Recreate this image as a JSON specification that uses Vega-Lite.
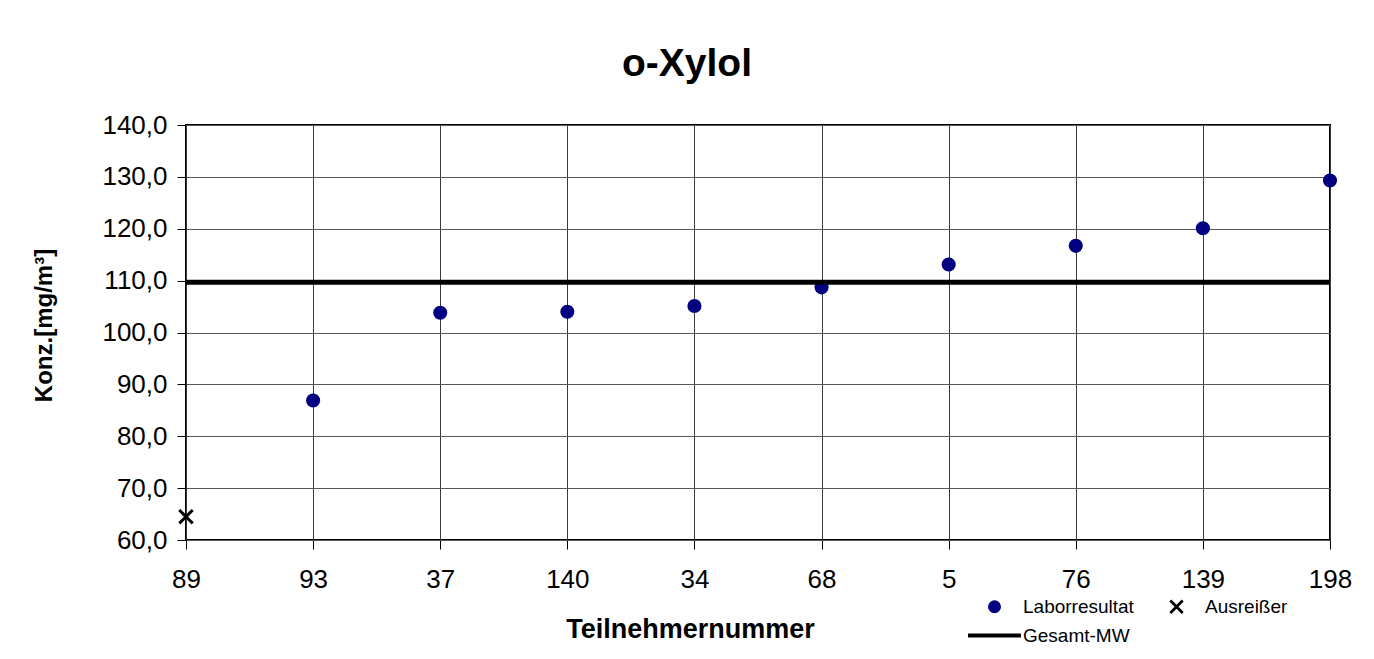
{
  "$schema": "https://vega.github.io/schema/vega-lite/v6.json",
  "width": 1144,
  "height": 415,
  "autosize": {"type": "none"},
  "padding": {"left": 186, "top": 125, "right": 44, "bottom": 119},
  "background": "white",
  "title": {
    "text": "o-Xylol",
    "font": "Liberation Sans",
    "fontSize": 39,
    "fontWeight": "bold",
    "color": "black",
    "anchor": "middle",
    "frame": "group",
    "dx": -71,
    "baseline": "alphabetic",
    "offset": -3
  },
  "config": {
    "view": {"stroke": "black", "strokeWidth": 2},
    "font": "Liberation Sans",
    "axis": {
      "labelFont": "Liberation Sans",
      "titleFont": "Liberation Sans",
      "labelColor": "black",
      "titleColor": "black",
      "tickColor": "black",
      "gridWidth": 1,
      "gridOpacity": 1,
      "domain": false
    },
    "legend": {
      "labelFont": "Liberation Sans"
    }
  },
  "layer": [
    {
      "data": {
        "values": [
          {"Teilnehmer": "89", "Wert": 64.5, "Serie": "Ausreißer"},
          {"Teilnehmer": "93", "Wert": 86.9, "Serie": "Laborresultat"},
          {"Teilnehmer": "37", "Wert": 103.8, "Serie": "Laborresultat"},
          {"Teilnehmer": "140", "Wert": 104.0, "Serie": "Laborresultat"},
          {"Teilnehmer": "34", "Wert": 105.1, "Serie": "Laborresultat"},
          {"Teilnehmer": "68", "Wert": 108.7, "Serie": "Laborresultat"},
          {"Teilnehmer": "5", "Wert": 113.1, "Serie": "Laborresultat"},
          {"Teilnehmer": "76", "Wert": 116.7, "Serie": "Laborresultat"},
          {"Teilnehmer": "139", "Wert": 120.1, "Serie": "Laborresultat"},
          {"Teilnehmer": "198", "Wert": 129.3, "Serie": "Laborresultat"}
        ]
      },
      "mark": {"type": "point", "filled": true, "opacity": 1, "size": 200, "strokeWidth": 0},
      "encoding": {
        "x": {
          "field": "Teilnehmer",
          "type": "ordinal",
          "sort": ["89", "93", "37", "140", "34", "68", "5", "76", "139", "198"],
          "scale": {"type": "point", "padding": 0},
          "axis": {
            "title": "Teilnehmernummer",
            "labelAngle": 0,
            "labelFontSize": 26,
            "labelPadding": 17,
            "tickSize": 9,
            "grid": true,
            "gridColor": "#3a3a3a",
            "titleFontSize": 27,
            "titleFontWeight": "bold",
            "titleX": 504,
            "titleY": 97,
            "titleBaseline": "alphabetic"
          }
        },
        "y": {
          "field": "Wert",
          "type": "quantitative",
          "scale": {"domain": [60, 140], "nice": false, "zero": false},
          "axis": {
            "title": "Konz.[mg/m³]",
            "values": [60, 70, 80, 90, 100, 110, 120, 130, 140],
            "labelExpr": "replace(format(datum.value, '.1f'), '.', ',')",
            "labelFontSize": 26,
            "labelPadding": 10,
            "tickSize": 9,
            "grid": true,
            "gridColor": "#5a5a5a",
            "titleFontSize": 24,
            "titleFontWeight": "bold",
            "titleX": -135,
            "titleY": 200,
            "titleBaseline": "alphabetic"
          }
        },
        "shape": {
          "field": "Serie",
          "type": "nominal",
          "scale": {
            "domain": ["Laborresultat", "Ausreißer", "Gesamt-MW"],
            "range": [
              "circle",
              "M-1.1,-0.8L-0.8,-1.1L0,-0.3L0.8,-1.1L1.1,-0.8L0.3,0L1.1,0.8L0.8,1.1L0,0.3L-0.8,1.1L-1.1,0.8L-0.3,0Z",
              "M-4.06,-0.31L4.06,-0.31L4.06,0.31L-4.06,0.31Z"
            ]
          },
          "legend": {
            "title": null,
            "orient": "none",
            "legendX": 799,
            "legendY": 472,
            "columns": 2,
            "direction": "horizontal",
            "labelFontSize": 19,
            "labelColor": "black",
            "labelOffset": 19,
            "columnPadding": 33,
            "rowPadding": 9,
            "symbolSize": 170,
            "symbolStrokeWidth": 0,
            "padding": 0
          }
        },
        "color": {
          "field": "Serie",
          "type": "nominal",
          "scale": {
            "domain": ["Laborresultat", "Ausreißer", "Gesamt-MW"],
            "range": ["#000080", "#000000", "#000000"]
          }
        }
      }
    },
    {
      "data": {"values": [{"MW": 109.7}]},
      "mark": {"type": "rule", "color": "black", "strokeWidth": 5},
      "encoding": {
        "y": {"field": "MW", "type": "quantitative"}
      }
    }
  ]
}
